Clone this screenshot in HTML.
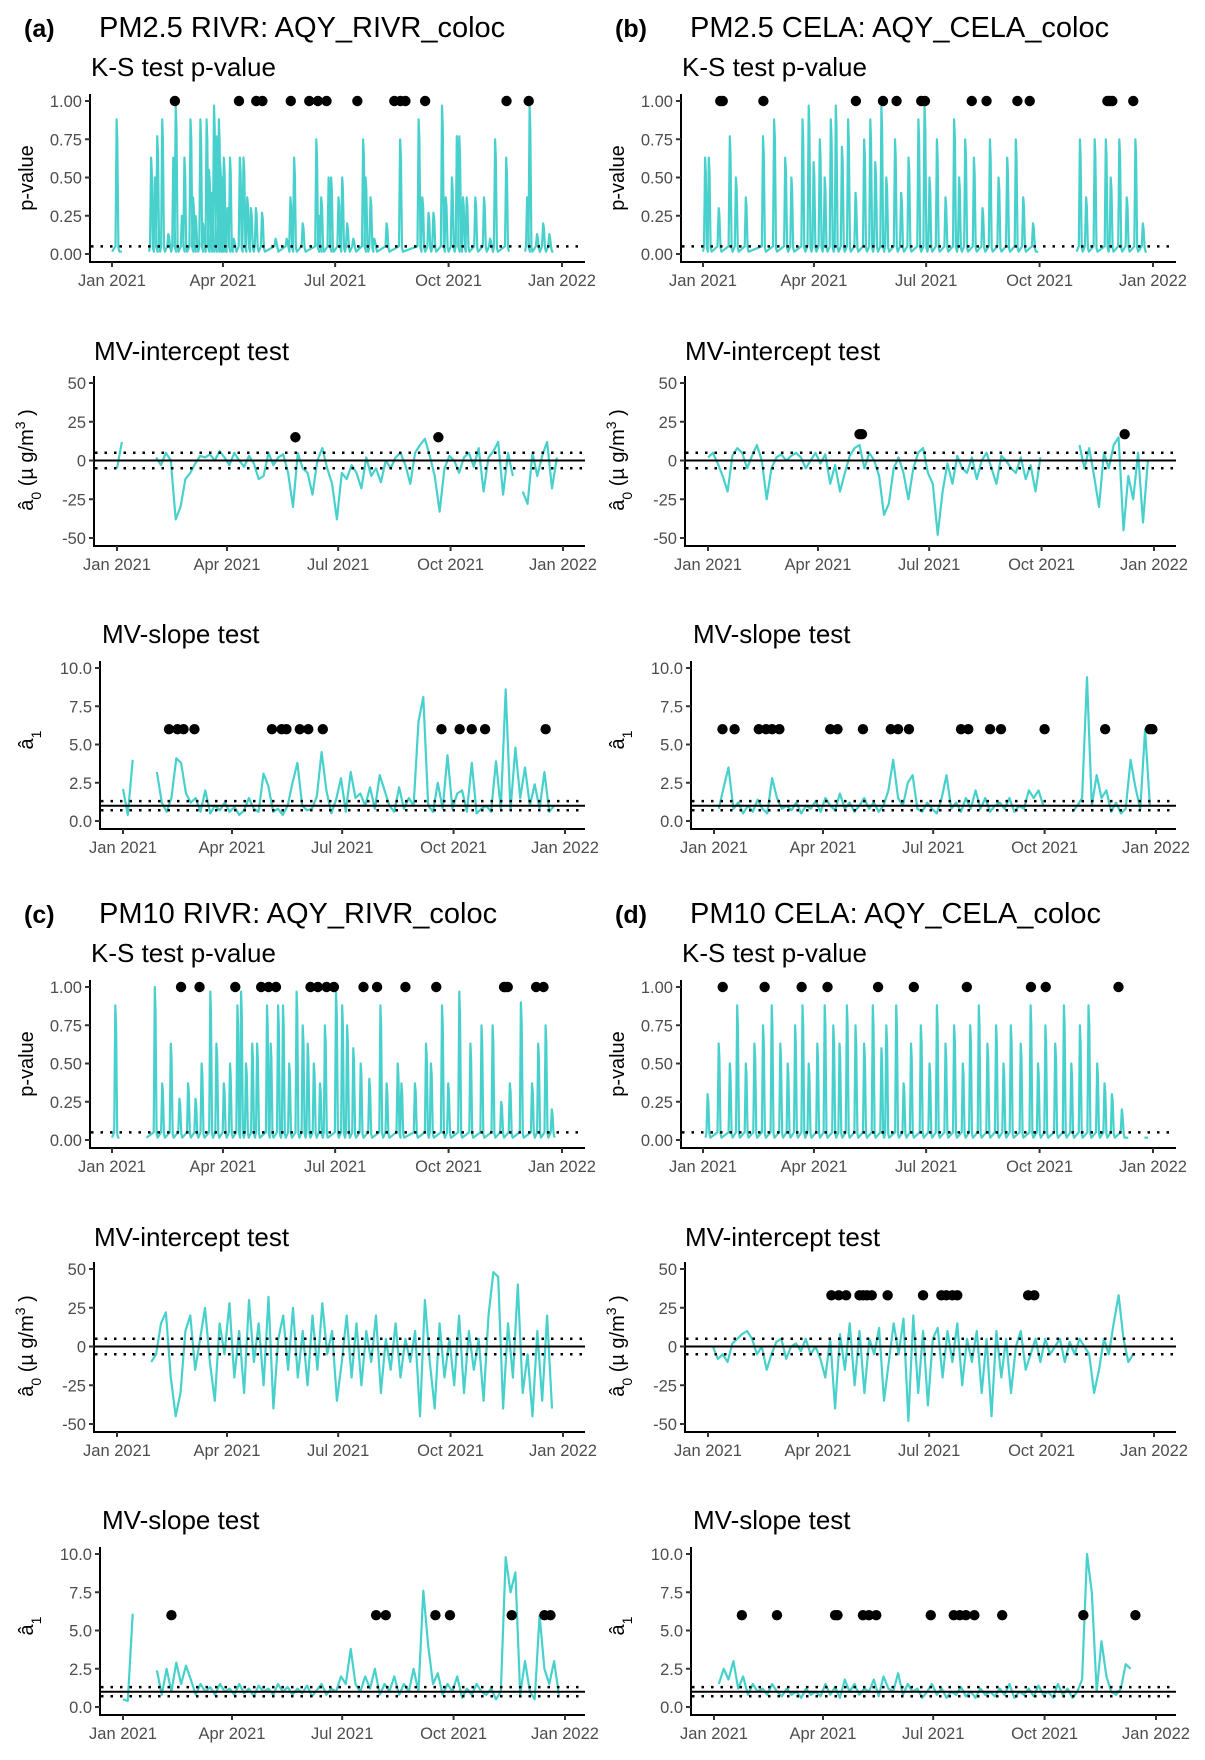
<!DOCTYPE html>
<html><head><meta charset="utf-8"><style>
html,body{margin:0;padding:0;background:#fff;}
svg{display:block;font-family:"Liberation Sans",Arial,sans-serif;}
</style></head><body>
<svg id="fig" width="1205" height="1760" viewBox="0 0 1205 1760" xmlns="http://www.w3.org/2000/svg"></svg>
<script>
// ---- shared axis data ----
const monthLabels = ["Jan 2021","Apr 2021","Jul 2021","Oct 2021","Jan 2022"];
const monthDays = [0,90,181,273,365];
const ksTicks = [0,0.25,0.5,0.75,1];
const ksTickLabels = ["0.00","0.25","0.50","0.75","1.00"];
const icTicks = [-50,-25,0,25,50];
const icTickLabels = ["-50","-25","0","25","50"];
const slTicks = [0,2.5,5,7.5,10];
const slTickLabels = ["0.0","2.5","5.0","7.5","10.0"];

// ---- panel (a) PM2.5 RIVR ----
const aKsSpikeDays = [4,32,35,37,41,46,50,52,57,59,64,66,68,72,74,77,79,81,83,85,87,88,90,91,94,96,99,104,107,110,113,117,122,133,142,145,148,155,166,168,170,176,178,184,187,191,196,204,206,210,213,223,234,249,252,257,261,268,271,276,280,282,285,288,295,302,307,311,320,337,339,345,350,355];
const aKsSpikeVals = [.88,.63,.5,.77,.88,.13,.63,.97,.25,.63,.88,.37,.25,.88,.2,.88,.55,.4,.97,.77,.88,.6,.5,.63,.3,.63,.1,.63,.63,.37,.3,.3,.27,.1,.1,.37,.63,.2,.75,.25,.37,.5,.5,.37,.5,.2,.1,.75,.5,.37,.1,.2,.75,.88,.37,.27,.27,.97,.37,.5,.77,.77,.37,.37,.37,.37,.1,.75,.63,.37,.97,.13,.2,.13];
const aKsSegments = [[0,8],[30,322],[335,358]];
const aKsDots = [51,103,117,122,145,160,167,174,199,229,234,238,254,320,338];
const aIc = [-5,12,null,null,null,null,null,null,2,-3,5,0,-38,-30,-12,-8,-2,3,2,4,0,6,2,-3,5,0,-4,3,-2,-12,-10,5,-3,2,4,-8,-30,5,-5,-8,-22,0,8,-5,-15,-38,-8,-12,-3,-8,-18,2,-10,-5,-14,0,-5,2,5,-3,-15,5,10,14,3,-10,-33,-5,3,0,-8,2,5,-4,8,-20,2,6,12,-22,5,-10,null,-20,-28,5,-10,3,12,-18,2,null];
const aIcDots = [146,263];
const aIcDotY = 15;
const aSl = [2.1,0.4,4.0,null,null,null,null,3.2,1.2,0.6,1.5,4.1,3.8,1.8,1.2,1.5,0.6,2.0,0.5,1.0,0.7,1.2,0.6,0.9,0.4,0.7,1.5,0.8,0.6,3.1,2.3,0.6,0.8,0.4,1.0,2.5,3.8,1.0,0.7,0.8,1.6,4.5,2.0,0.5,1.4,2.8,0.6,3.2,1.5,1.8,1.0,2.2,0.8,3.0,2.0,1.0,0.6,2.2,0.8,1.5,1.0,6.5,8.1,1.0,0.6,2.5,0.8,4.3,0.8,1.8,2.0,0.6,3.8,0.5,0.8,1.0,0.6,3.9,0.8,8.6,0.7,4.8,1.5,3.5,1.0,2.4,0.8,3.2,0.6,1.0,null,null];
const aSlDots = [38,45,50,59,123,131,135,146,153,165,263,278,288,299,349];

// ---- panel (b) PM2.5 CELA ----
const bKsSpikeDays = [2,5,13,22,27,35,49,58,67,72,81,86,90,95,99,104,108,113,118,124,131,136,140,145,149,156,161,167,175,180,184,190,197,204,208,213,220,227,233,240,247,254,260,268,306,311,318,327,331,338,344,351,357];
const bKsSpikeVals = [.63,.63,.3,.77,.5,.37,.77,.88,.63,.5,.88,.97,.6,.75,.5,.88,.97,.7,.88,.4,.75,.88,.6,.97,.5,.75,.4,.63,.88,.97,.5,.75,.37,.88,.5,.75,.63,.3,.75,.5,.63,.75,.37,.2,.75,.37,.75,.75,.5,.75,.37,.75,.2];
const bKsSegments = [[0,272],[303,360]];
const bKsDots = [14,16,49,124,146,157,177,180,218,230,255,265,328,330,332,349];
const bIc = [2,5,-2,-10,-20,3,8,5,-5,3,10,0,-25,-5,2,4,0,3,5,2,-5,0,5,-2,4,-15,-3,-20,-8,3,8,10,-5,5,0,-10,-35,-28,-5,2,-8,-25,-5,5,8,-8,-15,-48,-20,-2,-15,3,-5,-8,2,-12,0,5,-5,-15,3,0,-5,-8,2,-12,-3,-20,2,null,null,null,null,null,null,null,10,-5,8,-10,-30,5,-5,10,15,-45,-10,-25,5,-40,0,null];
const bIcDots = [124,126,341];
const bIcDotY = 17;
const bSl = [null,0.8,2.2,3.5,0.8,1.2,0.5,1.0,0.6,1.4,0.8,0.5,2.8,1.5,0.8,1.0,0.7,1.2,0.5,1.0,0.8,1.3,0.6,1.5,1.0,0.7,1.8,0.8,1.2,0.6,1.0,1.5,0.8,1.2,0.6,1.0,2.0,4.0,1.5,1.0,2.5,3.0,0.8,0.6,1.2,0.8,0.5,1.5,3.0,0.8,1.2,0.6,1.5,0.8,2.0,0.8,1.5,0.6,1.0,1.2,0.8,1.5,0.6,1.0,0.8,2.0,1.5,2.0,1.0,null,null,null,null,null,0.6,1.0,1.5,9.4,1.0,3.0,1.5,2.0,0.6,1.2,0.5,0.8,4.0,2.2,0.8,6.0,1.0,null];
const bSlDots = [7,17,37,43,48,54,96,102,123,146,152,161,204,210,228,237,273,323,360,362];

// ---- panel (c) PM10 RIVR ----
const cKsSpikeDays = [3,35,41,48,55,62,68,73,80,85,91,96,102,105,109,114,118,126,129,135,139,144,150,155,159,164,169,173,182,187,191,196,202,209,218,223,232,235,246,255,259,268,273,282,291,300,309,316,323,332,341,346,352,357];
const cKsSpikeVals = [.88,1.0,.37,.63,.27,.37,.27,.5,.97,.63,.37,.5,.88,.97,.5,.63,.63,.88,.63,.88,.88,.5,.97,.75,.63,.5,.37,.75,.97,.88,.75,.6,.5,.4,.88,.37,.5,.37,.37,.63,.5,.88,.37,.97,.63,.75,.75,.25,.37,.9,.37,.63,.75,.2];
const cKsSegments = [[0,6],[28,359]];
const cKsDots = [56,71,100,121,127,133,161,167,174,180,204,215,238,263,318,319,321,344,350];
const cIc = [null,null,20,null,null,null,null,-10,-5,15,22,-20,-45,-30,10,20,-15,5,25,-10,-35,15,-5,28,-20,10,-30,30,-10,15,-25,32,-40,5,20,-15,25,-20,10,-25,20,-15,28,-5,10,-35,-10,20,-20,15,-25,10,-10,20,-30,5,-15,15,-20,5,-10,10,-45,30,-10,-40,15,-20,5,-25,20,-30,10,-15,5,-35,20,48,45,-40,15,-20,40,-30,-5,-45,10,-35,20,-40,null,null];
const cIcDots = [];
const cIcDotY = 30;
const cSl = [0.5,0.4,6.1,null,null,null,null,2.4,0.8,2.5,1.0,2.9,1.5,2.7,1.8,0.8,1.5,1.0,1.3,0.8,1.5,1.0,1.2,0.8,1.5,0.9,1.2,0.7,1.4,1.0,1.2,0.8,1.5,1.0,1.3,0.8,1.2,0.9,1.4,0.7,1.1,1.5,0.8,1.2,1.0,2.0,1.5,3.8,1.5,1.0,2.0,1.2,2.5,0.8,1.5,1.0,2.0,0.8,1.5,1.0,2.5,1.0,7.6,4.0,1.5,2.2,0.8,1.5,1.0,2.0,0.6,1.2,0.8,1.5,1.0,0.8,1.2,0.5,1.0,9.8,7.5,8.8,0.8,3.0,1.0,0.5,6.0,2.5,1.5,3.0,0.8,null];
const cSlDots = [40,209,217,258,270,321,348,353];

// ---- panel (d) PM10 CELA ----
const dKsSpikeDays = [4,13,22,28,35,42,49,56,63,69,75,81,86,93,99,106,111,117,124,131,138,145,149,157,163,169,177,184,190,197,204,211,217,224,231,238,244,250,258,266,272,278,286,293,299,306,313,320,326,332,340];
const dKsSpikeVals = [.3,.63,.5,.88,.5,.63,.75,.88,.63,.5,.75,.88,.5,.63,.88,.75,.63,.88,.75,.63,.88,.6,.75,.88,.37,.63,.75,.5,.88,.63,.75,.5,.75,.88,.63,.75,.5,.75,.63,.88,.5,.75,.63,.88,.5,.75,.88,.5,.37,.3,.2];
const dKsSegments = [[2,345],[358,361]];
const dKsDots = [16,50,80,101,142,171,214,266,278,337];
const dIc = [null,0,-8,-5,-10,2,5,8,10,5,-5,0,-15,-5,3,5,-8,0,2,-3,5,-5,0,-8,-20,5,-40,8,-15,15,-25,10,-30,5,-5,12,-35,-10,15,-5,18,-48,20,-30,10,-38,5,12,-20,10,-10,15,-25,5,-10,10,-30,5,-45,10,-20,5,-30,0,10,-15,-5,5,-10,5,-5,0,5,-10,3,-5,5,0,-5,-30,-15,5,-5,15,33,5,-10,-5,null,null,null,null];
const dIcDots = [101,107,113,124,127,130,134,147,176,191,195,200,204,262,267];
const dIcDotY = 33;
const dSl = [null,1.5,2.5,1.8,3.0,1.2,2.0,0.8,1.5,1.0,1.2,0.8,1.5,1.0,0.7,1.2,0.8,1.0,0.6,1.2,0.8,1.0,0.7,1.5,0.8,1.3,0.6,1.8,1.0,1.5,0.8,1.2,1.0,1.8,0.7,2.0,1.2,1.0,2.2,0.8,1.5,1.0,1.2,0.6,1.0,1.5,0.8,1.2,0.6,1.0,0.8,1.3,0.7,1.0,0.6,1.2,0.8,1.0,0.7,1.2,0.8,1.5,0.6,1.0,0.8,1.2,0.7,1.4,0.8,1.0,0.6,1.5,0.8,1.2,0.6,1.0,1.8,10.0,7.5,1.0,4.3,2.0,1.0,0.8,1.2,2.8,2.5,null,null,null,null,null];
const dSlDots = [23,52,100,102,123,128,134,179,198,203,208,215,238,305,348];

// ---- drawing ----
const NS = "http://www.w3.org/2000/svg";
const svg = document.getElementById("fig");
const TEAL = "#48D1CC";
function mk(tag, attrs, parent) {
  const e = document.createElementNS(NS, tag);
  for (const k in attrs) e.setAttribute(k, attrs[k]);
  (parent || svg).appendChild(e);
  return e;
}
function txt(str, attrs, parent) { const t = mk("text", attrs, parent); t.textContent = str; return t; }

function axes(g, L, name) {
  const yl = mk("line", {x1:L.axisX, y1:L.yTop-7, x2:L.axisX, y2:L.axisY, stroke:"#000", "stroke-width":2}, g);
  
  
  const xl = mk("line", {x1:L.axisX-1, y1:L.axisY, x2:L.right, y2:L.axisY, stroke:"#000", "stroke-width":2}, g);
  
  
  for (let i = 0; i < monthDays.length; i++) {
    const x = L.xs(monthDays[i]);
    mk("line", {x1:x, y1:L.axisY, x2:x, y2:L.axisY+5, stroke:"#333", "stroke-width":2}, g);
    const t = txt(monthLabels[i], {x:x, y:L.axisY+24, "font-size":16.5, fill:"#4d4d4d", "text-anchor":"middle"}, g);
    
    
  }
  for (let i = 0; i < L.ticks.length; i++) {
    const y = L.ys(L.ticks[i]);
    mk("line", {x1:L.axisX-5, y1:y, x2:L.axisX, y2:y, stroke:"#333", "stroke-width":2}, g);
    const t = txt(L.tickLabels[i], {x:L.axisX-8, y:y+6, "font-size":16.5, fill:"#4d4d4d", "text-anchor":"end"}, g);
    
    
  }
}
function hline(g, L, v, dotted, name) {
  const l = mk("line", {x1:L.axisX+1, y1:L.ys(v), x2:L.right, y2:L.ys(v), stroke:"#000", "stroke-width": dotted?2.5:2, "stroke-dasharray": dotted?"2.5 7":"none"}, g);
  
  
}
function dots(g, L, days, yv, name) {
  for (const d of days) {
    const c = mk("circle", {cx:L.xs(d), cy:L.ys(yv), r:5.2, fill:"#000"}, g);
    
    
  }
}
function seriesPath(g, L, vals, name) {
  let d = "", pen = false;
  for (let i = 0; i < vals.length; i++) {
    const v = vals[i];
    if (v === null) { pen = false; continue; }
    d += (pen ? "L" : "M") + L.xs(i*4).toFixed(1) + "," + L.ys(v).toFixed(1);
    pen = true;
  }
  const p = mk("path", {d:d, fill:"none", stroke:TEAL, "stroke-width":2.2, "stroke-linejoin":"round"}, g);
  
  
}
function ksPath(g, L, days, vals, segs, name) {
  let d = "";
  const base = 0.015;
  for (const s of segs) {
    d += "M" + L.xs(s[0]).toFixed(1) + "," + L.ys(base).toFixed(1);
    for (let i = 0; i < days.length; i++) {
      if (days[i] < s[0] || days[i] > s[1]) continue;
      d += "L" + L.xs(days[i]-1.2).toFixed(1) + "," + L.ys(0.05).toFixed(1);
      d += "L" + L.xs(days[i]-0.3).toFixed(1) + "," + L.ys(vals[i]).toFixed(1);
      d += "L" + L.xs(days[i]+0.3).toFixed(1) + "," + L.ys(vals[i]*0.85).toFixed(1);
      d += "L" + L.xs(days[i]+1.2).toFixed(1) + "," + L.ys(0.04).toFixed(1);
      d += "L" + L.xs(days[i]+2).toFixed(1) + "," + L.ys(base).toFixed(1);
    }
    d += "L" + L.xs(s[1]).toFixed(1) + "," + L.ys(base).toFixed(1);
  }
  const p = mk("path", {d:d, fill:"none", stroke:TEAL, "stroke-width":2.2, "stroke-linejoin":"round"}, g);
  
  
}
function layout(dx, dy, axisX, jan21, jan22, yTop, yBot, vTop, vBot, ticks, tickLabels) {
  const L = {axisX:axisX+dx, jan21:jan21+dx, jan22:jan22+dx, yTop:yTop+dy, yBot:yBot+dy, axisY:yBot+dy+8, right:585+dx, ticks:ticks, tickLabels:tickLabels};
  L.xs = d => L.jan21 + d*(L.jan22-L.jan21)/365;
  L.ys = v => L.yTop + (vTop - v)*(L.yBot-L.yTop)/(vTop - vBot);
  return L;
}
function yTitle(g, x, y, kind) {
  const t = mk("text", {transform:"translate("+x+","+y+") rotate(-90)", "font-size":20, fill:"#000", "text-anchor":"middle"}, g);
  
  
  if (kind === "ks") { t.textContent = "p-value"; return; }
  const a = mk("tspan", {}, t); a.textContent = "â";
  const s = mk("tspan", {"baseline-shift":"sub", "font-size":14}, t); s.textContent = kind === "ic" ? "0" : "1";
  if (kind === "ic") {
    const r = mk("tspan", {}, t); r.textContent = " (µ g/m";
    const sp = mk("tspan", {"baseline-shift":"super", "font-size":14}, t); sp.textContent = "3";
    const r2 = mk("tspan", {}, t); r2.textContent = " )";
  }
}

function panel(letter, title, dx, dy, d) {
  const g = mk("g", {});
  
  
  const lab = txt("(" + letter + ")", {x:24+dx, y:37+dy, "font-size":25, "font-weight":"bold", fill:"#000"}, g);
  
  
  const tt = txt(title, {x:99+dx, y:37+dy, "font-size":29, fill:"#000"}, g);
  
  

  const gk = mk("g", {}, g);
  
  
  const K = layout(dx, dy, 90, 112, 562, 101, 254, 1, 0, ksTicks, ksTickLabels);
  const s1 = txt("K-S test p-value", {x:91+dx, y:76+dy, "font-size":26, fill:"#000"}, gk);
  
  
  ksPath(gk, K, d.ksDays, d.ksVals, d.ksSegs, 'ks-pvalue-line');
  hline(gk, K, 0.05, true, 'significance-line');
  axes(gk, K, 'ks');
  dots(gk, K, d.ksDots, 1, 'ks-flag-dot');
  yTitle(gk, 33+dx, 178+dy, "ks");

  const gi = mk("g", {}, g);
  
  
  const I = layout(dx, dy, 94, 117, 563, 383, 538, 50, -50, icTicks, icTickLabels);
  const s2 = txt("MV-intercept test", {x:94+dx, y:360+dy, "font-size":26, fill:"#000"}, gi);
  
  
  seriesPath(gi, I, d.ic, 'intercept-line');
  hline(gi, I, 0, false, 'zero-line');
  hline(gi, I, 5, true, 'upper-bound-line');
  hline(gi, I, -5, true, 'lower-bound-line');
  axes(gi, I, 'intercept');
  dots(gi, I, d.icDots, d.icDotY, 'intercept-flag-dot');
  yTitle(gi, 33+dx, 460+dy, "ic");

  const gs = mk("g", {}, g);
  
  
  const S = layout(dx, dy, 100, 123, 565, 668, 821, 10, 0, slTicks, slTickLabels);
  const s3 = txt("MV-slope test", {x:102+dx, y:643+dy, "font-size":26, fill:"#000"}, gs);
  
  
  seriesPath(gs, S, d.sl, 'slope-line');
  hline(gs, S, 1, false, 'unit-slope-line');
  hline(gs, S, 1.3, true, 'upper-bound-line');
  hline(gs, S, 0.7, true, 'lower-bound-line');
  axes(gs, S, 'slope');
  dots(gs, S, d.slDots, 6, 'slope-flag-dot');
  yTitle(gs, 33+dx, 740+dy, "sl");
}

panel("a", "PM2.5 RIVR: AQY_RIVR_coloc", 0, 0, {ksDays:aKsSpikeDays, ksVals:aKsSpikeVals, ksSegs:aKsSegments, ksDots:aKsDots, ic:aIc, icDots:aIcDots, icDotY:aIcDotY, sl:aSl, slDots:aSlDots});
panel("b", "PM2.5 CELA: AQY_CELA_coloc", 591, 0, {ksDays:bKsSpikeDays, ksVals:bKsSpikeVals, ksSegs:bKsSegments, ksDots:bKsDots, ic:bIc, icDots:bIcDots, icDotY:bIcDotY, sl:bSl, slDots:bSlDots});
panel("c", "PM10 RIVR: AQY_RIVR_coloc", 0, 886, {ksDays:cKsSpikeDays, ksVals:cKsSpikeVals, ksSegs:cKsSegments, ksDots:cKsDots, ic:cIc, icDots:cIcDots, icDotY:cIcDotY, sl:cSl, slDots:cSlDots});
panel("d", "PM10 CELA: AQY_CELA_coloc", 591, 886, {ksDays:dKsSpikeDays, ksVals:dKsSpikeVals, ksSegs:dKsSegments, ksDots:dKsDots, ic:dIc, icDots:dIcDots, icDotY:dIcDotY, sl:dSl, slDots:dSlDots});
</script>
</body></html>
